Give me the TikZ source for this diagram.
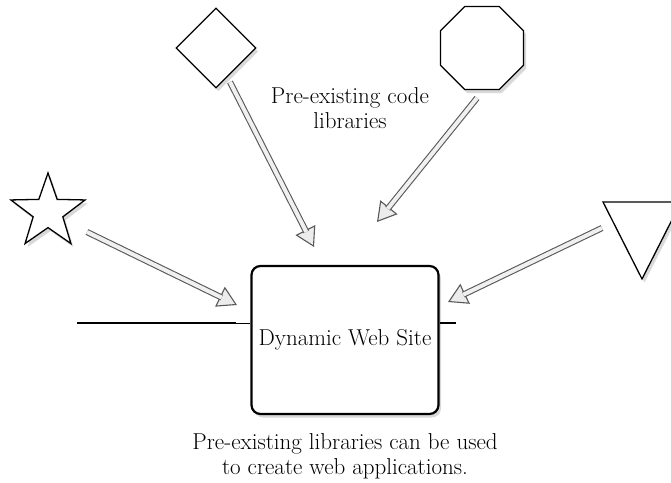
\documentclass[tikz,border=0pt]{standalone}
\usetikzlibrary{arrows.meta,positioning,calc,shapes.geometric,shadows}
\begin{document}
\begin{tikzpicture}[x=1pt,y=-1pt,
  shp/.style={draw,fill=white,line width=1.3pt,drop shadow={opacity=0.3,shadow xshift=2.5pt,shadow yshift=-3.5pt}},
  shaft/.style={draw=black!65,line width=1.1pt,double=gray!12,double distance=4pt,shorten >=17pt},
  head/.style={draw=black!65,line width=1.1pt,-{Triangle[length=19pt,width=22pt,fill=gray!15]}},
  lbl/.style={font=\fontsize{23}{25}\selectfont,align=center}]
  \useasboundingbox (0,0) rectangle (671,482);
  % library shapes
  \node[shp,diamond,minimum width=80pt,minimum height=80pt,inner sep=0pt] (dia) at (216,48) {};
  \node[shp,regular polygon,regular polygon sides=8,minimum size=90pt,inner sep=0pt] (oct) at (482,48) {};
  \node[shp,star,star points=5,star point ratio=2.5,minimum size=78pt,inner sep=0pt] (str) at (48,212) {};
  \draw[shp] (603,202) -- (681,202) -- (642,279) -- cycle;
  % the site
  \node[shp,lbl,rounded corners=9pt,line width=2.2pt,minimum width=187pt,minimum height=148pt] (site) at (345,340) {Dynamic Web Site};
  \node[lbl] (libs) at (350,108) {Pre-existing code\\libraries};
  \node[lbl] (note) at (345,456) {Pre-existing libraries can be used\\to create web applications.};
  % side lines
  \coordinate (lnL) at (77,323);
  \coordinate (lnK) at (236,323);
  \coordinate (lnR) at (456,323);
  \draw[line width=2.8pt] (lnL) -- (lnK);
  \draw[line width=0.8pt] (lnK) -- (lnK -| site.west);
  \draw[line width=1.2pt] (site.east |- lnR) -- (lnR);
  % hollow arrows
  \coordinate (diaS) at (230,82);  \coordinate (diaT) at (314,247);
  \coordinate (octS) at (477,98);  \coordinate (octT) at (377,222);
  \coordinate (strS) at (87,232);  \coordinate (strT) at (237,305);
  \coordinate (triS) at (602,228); \coordinate (triT) at (448,302);
  \foreach \a in {dia,oct,str,tri} {
    \draw[head] ($(\a T)!20pt!(\a S)$) -- (\a T);
    \draw[shaft] (\a S) -- (\a T);
  }
\end{tikzpicture}
\end{document}
